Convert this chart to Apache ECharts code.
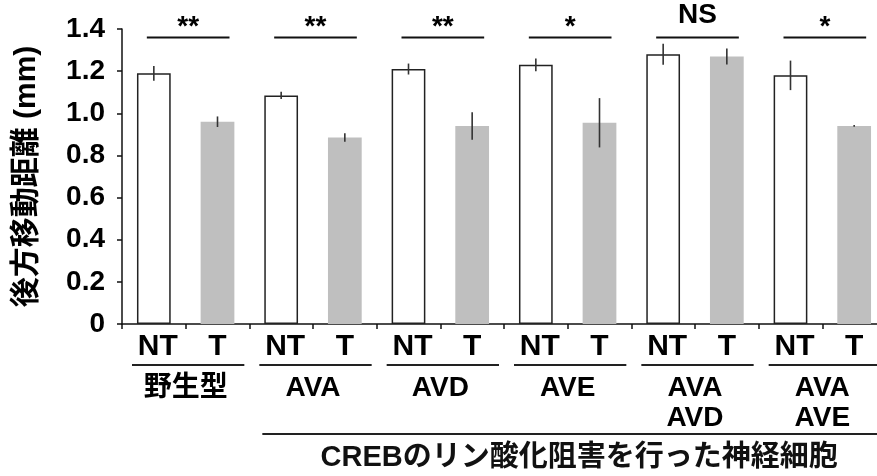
<!DOCTYPE html>
<html>
<head>
<meta charset="utf-8">
<script src="https://cdn.jsdelivr.net/npm/echarts@6/dist/echarts.min.js"></script>
<style>
  html, body { margin: 0; padding: 0; background: #fff; }
  #chart { width: 877px; height: 476px; }
</style>
</head>
<body>
<div id="chart"></div>
<script>
// データ
var groups = ['野生型', 'AVA', 'AVD', 'AVE', 'AVA\nAVD', 'AVA\nAVE'];
var conds = ['NT', 'T'];
var ntMeans = [1.19, 1.085, 1.21, 1.23, 1.28, 1.18];
var ntErr = [0.035, 0.017, 0.026, 0.03, 0.05, 0.07];
var tMeans = [0.96, 0.885, 0.94, 0.955, 1.27, 0.94];
var tErr = [0.025, 0.02, 0.065, 0.117, 0.038, 0.004];
var sigLabels = ['**', '**', '**', '*', 'NS', '*'];
var sigLevel = 1.36;
var bottomTitle = 'CREBのリン酸化阻害を行った神経細胞';
var yName = '後方移動距離 (mm)';

var FONT = "'Liberation Sans', Arial, 'Noto Sans CJK JP', sans-serif";

var chart = echarts.init(document.getElementById('chart'));

// カテゴリ・棒・誤差棒
var categories = [], barData = [], errData = [];
for (var i = 0; i < groups.length; i++) {
  categories.push(conds[0], conds[1]);
  barData.push({
    value: ntMeans[i],
    itemStyle: { color: '#ffffff', borderColor: '#222', borderWidth: 1.5 }
  });
  barData.push({
    value: tMeans[i],
    itemStyle: { color: '#bfbfbf', borderWidth: 0 }
  });
  errData.push([2 * i, ntMeans[i] - ntErr[i], ntMeans[i] + ntErr[i]]);
  errData.push([2 * i + 1, tMeans[i] - tErr[i], tMeans[i] + tErr[i]]);
}
var sigData = sigLabels.map(function (s, i) { return [2 * i, 2 * i + 1, sigLevel]; });
var groupIdx = groups.map(function (g, i) { return [2 * i, 2 * i + 1]; });

var option = {
  animation: false,
  // 右端は画像の外まで続いている
  grid: { left: 122, top: 29, width: 764, height: 295, containLabel: false, outerBoundsMode: 'none' },
  xAxis: [{
    type: 'category',
    data: categories,
    axisLine: { lineStyle: { color: '#111', width: 1.5 } },
    axisTick: { show: true, length: 5, lineStyle: { color: '#111', width: 1.5 } },
    axisLabel: {
      color: '#000', fontSize: 30, fontWeight: 'bold', fontFamily: FONT, margin: 8, interval: 0,
      formatter: function (v) { return v === 'NT' ? '{nt|NT}' : v; },
      rich: { nt: { fontSize: 30, fontWeight: 'bold', fontFamily: FONT, color: '#000', padding: [0, 0, 0, 8] } }
    }
  }, {
    type: 'category',
    data: groups,
    position: 'bottom',
    offset: 41,
    axisLine: { show: false },
    axisTick: { show: false },
    axisLabel: { color: '#000', fontSize: 28, fontWeight: 'bold', fontFamily: FONT, lineHeight: 30, margin: 8, interval: 0 }
  }],
  yAxis: {
    type: 'value',
    min: 0, max: 1.4, interval: 0.2,
    name: yName,
    nameLocation: 'middle',
    nameRotate: 90,
    nameGap: 80,
    nameTextStyle: { color: '#000', fontSize: 30, fontWeight: 'bold', fontFamily: FONT },
    axisLine: { show: true, lineStyle: { color: '#111', width: 1.5 } },
    axisTick: { show: true, length: 5, lineStyle: { color: '#111', width: 1.5 } },
    splitLine: { show: false },
    axisLabel: {
      color: '#000', fontSize: 28, fontWeight: 'bold', fontFamily: FONT, margin: 17,
      formatter: function (v) { return v === 0 ? '0' : v.toFixed(1); }
    }
  },
  series: [{
    type: 'bar',
    data: barData,
    barWidth: '53%',
    xAxisIndex: 0
  }, {
    // 誤差棒
    type: 'custom',
    xAxisIndex: 0,
    data: errData,
    z: 5,
    renderItem: function (params, api) {
      var lo = api.coord([api.value(0), api.value(1)]);
      var hi = api.coord([api.value(0), api.value(2)]);
      return {
        type: 'line',
        shape: { x1: lo[0], y1: lo[1], x2: hi[0], y2: hi[1] },
        style: { stroke: '#333', lineWidth: 1.6 }
      };
    }
  }, {
    // 有意差の横線と記号
    type: 'custom',
    xAxisIndex: 0,
    data: sigData,
    clip: false,
    renderItem: function (params, api) {
      var p1 = api.coord([api.value(0), api.value(2)]);
      var p2 = api.coord([api.value(1), api.value(2)]);
      var label = sigLabels[params.dataIndex];
      var isNS = label === 'NS';
      var x1 = p1[0] - 7, x2 = p2[0] + 12;
      return {
        type: 'group',
        children: [{
          type: 'line',
          shape: { x1: x1, y1: p1[1], x2: x2, y2: p1[1] },
          style: { stroke: '#111', lineWidth: 2 }
        }, {
          type: 'text',
          style: {
            text: label,
            x: (x1 + x2) / 2,
            y: isNS ? p1[1] - 8 : p1[1] + 4,
            align: 'center',
            verticalAlign: 'bottom',
            fill: '#000',
            font: 'bold 28px ' + FONT
          }
        }]
      };
    }
  }, {
    // グループ下線
    type: 'custom',
    xAxisIndex: 0,
    data: groupIdx,
    clip: false,
    renderItem: function (params, api) {
      var half = api.size([1, 0])[0] / 2;
      var a = api.coord([api.value(0), 0]);
      var b = api.coord([api.value(1), 0]);
      var y = a[1] + 41;
      return {
        type: 'line',
        shape: { x1: a[0] - half + 10, y1: y, x2: b[0] + half - 5, y2: y },
        style: { stroke: '#222', lineWidth: 2 }
      };
    }
  }, {
    // CREB 注記
    type: 'custom',
    xAxisIndex: 0,
    data: [[2, 11]],
    clip: false,
    renderItem: function (params, api) {
      var half = api.size([1, 0])[0] / 2;
      var a = api.coord([api.value(0), 0]);
      var b = api.coord([api.value(1), 0]);
      var y = a[1] + 110;
      var x1 = a[0] - half + 13, x2 = b[0] + half;
      return {
        type: 'group',
        children: [{
          type: 'line',
          shape: { x1: x1, y1: y, x2: x2, y2: y },
          style: { stroke: '#222', lineWidth: 2 }
        }, {
          type: 'text',
          style: {
            text: bottomTitle,
            x: (x1 + x2) / 2 + 5,
            y: y + 24,
            align: 'center',
            verticalAlign: 'middle',
            fill: '#111',
            font: 'bold 29px ' + FONT
          }
        }]
      };
    }
  }]
};
chart.setOption(option);
</script>
</body>
</html>
